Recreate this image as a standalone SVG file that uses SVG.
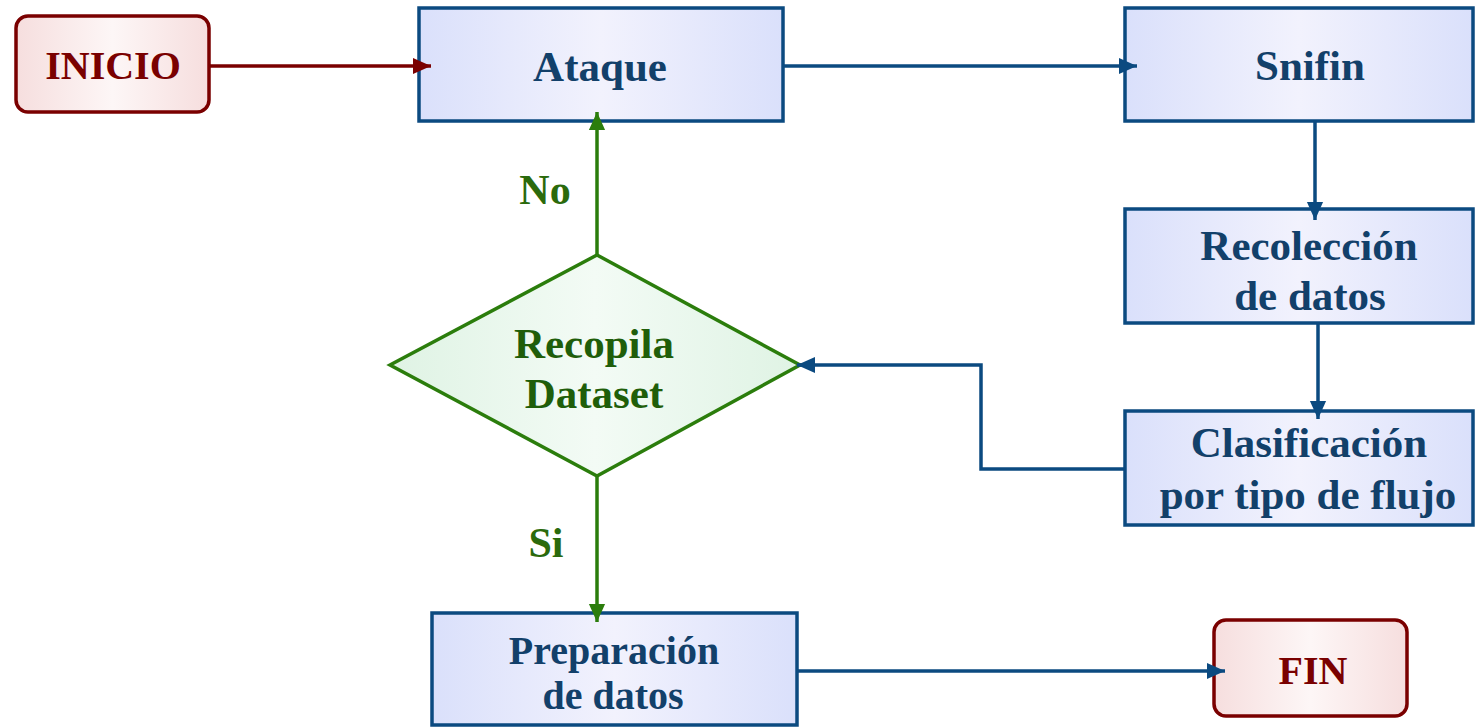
<svg xmlns="http://www.w3.org/2000/svg" width="1475" height="727" viewBox="0 0 1475 727">
  <defs>
    <linearGradient id="gBlue" x1="0" y1="0" x2="1" y2="0">
      <stop offset="0" stop-color="#dae0fb"/>
      <stop offset="0.5" stop-color="#f2f2fd"/>
      <stop offset="1" stop-color="#dae0fb"/>
    </linearGradient>
    <linearGradient id="gRed" x1="0" y1="0" x2="1" y2="0">
      <stop offset="0" stop-color="#f6dede"/>
      <stop offset="0.5" stop-color="#fdf6f6"/>
      <stop offset="1" stop-color="#f6dede"/>
    </linearGradient>
    <linearGradient id="gGreen" x1="0" y1="0" x2="1" y2="0">
      <stop offset="0" stop-color="#dff3e4"/>
      <stop offset="0.5" stop-color="#f3fbf5"/>
      <stop offset="1" stop-color="#dff3e4"/>
    </linearGradient>
    <marker id="aBlue" viewBox="0 0 10 10" refX="10" refY="5" markerWidth="18" markerHeight="18" markerUnits="userSpaceOnUse" orient="auto">
      <path d="M0,0.5 L10,5 L0,9.5 z" fill="#0b4a80"/>
    </marker>
    <marker id="aRed" viewBox="0 0 10 10" refX="10" refY="5" markerWidth="18" markerHeight="18" markerUnits="userSpaceOnUse" orient="auto">
      <path d="M0,0.5 L10,5 L0,9.5 z" fill="#7a0000"/>
    </marker>
    <marker id="aGreen" viewBox="0 0 10 10" refX="10" refY="5" markerWidth="18" markerHeight="18" markerUnits="userSpaceOnUse" orient="auto">
      <path d="M0,0.5 L10,5 L0,9.5 z" fill="#2b7d0c"/>
    </marker>
  </defs>
  <style>
    text { font-family: "Liberation Serif", "Times New Roman", serif; font-weight: bold; text-anchor: middle; dominant-baseline: central; }
    .box { fill: url(#gBlue); stroke: #0b4a80; stroke-width: 3.5; }
    .term { fill: url(#gRed); stroke: #7a0000; stroke-width: 3.5; }
    .dec { fill: url(#gGreen); stroke: #2b7d0c; stroke-width: 3.5; }
    .tBlue { fill: #12406a; font-size: 43px; }
    .tSmall { font-size: 40px; }
    .tRed { fill: #7a0000; font-size: 40px; }
    .tGreen { fill: #1f5e0a; font-size: 43px; }
    .lbl { fill: #2b6a0c; font-size: 42px; }
    .cb { fill: none; stroke: #0b4a80; stroke-width: 3.5; marker-end: url(#aBlue); }
    .cr { fill: none; stroke: #7a0000; stroke-width: 3.5; marker-end: url(#aRed); }
    .cg { fill: none; stroke: #2b7d0c; stroke-width: 3.5; marker-end: url(#aGreen); }
  </style>

  <g id="inicio">
    <rect class="term" x="16" y="16" width="193" height="96" rx="12"/>
    <text class="tRed" x="113" y="65">INICIO</text>
  </g>

  <g id="ataque">
    <rect class="box" x="419" y="8" width="364" height="113"/>
    <text class="tBlue" x="600" y="66">Ataque</text>
  </g>

  <g id="snifin">
    <rect class="box" x="1125" y="8" width="348" height="113"/>
    <text class="tBlue" x="1310" y="65">Snifin</text>
  </g>

  <g id="recoleccion">
    <rect class="box" x="1125" y="209" width="348" height="114"/>
    <text class="tBlue" x="1309" y="245">Recolección</text>
    <text class="tBlue" x="1310" y="295">de datos</text>
  </g>

  <g id="clasificacion">
    <rect class="box" x="1125" y="411" width="348" height="114"/>
    <text class="tBlue" x="1309" y="442">Clasificación</text>
    <text class="tBlue" x="1308" y="494">por tipo de flujo</text>
  </g>

  <g id="recopila">
    <polygon class="dec" points="597,255 800,365 597,476 390,365"/>
    <text class="tGreen" x="594" y="343">Recopila</text>
    <text class="tGreen" x="594" y="393">Dataset</text>
  </g>

  <g id="preparacion">
    <rect class="box" x="432" y="613" width="365" height="112"/>
    <text class="tBlue tSmall" x="614" y="650">Preparación</text>
    <text class="tBlue tSmall" x="613" y="695">de datos</text>
  </g>

  <g id="fin">
    <rect class="term" x="1214" y="620" width="193" height="96" rx="12"/>
    <text class="tRed" x="1313" y="670">FIN</text>
  </g>

  <!-- connectors are drawn last so their arrowheads sit on top of the boxes -->
  <g id="connectors">
    <path class="cr" d="M209,66 H431"/>
    <path class="cb" d="M783,66 H1137"/>
    <path class="cb" d="M1315,121 V220"/>
    <path class="cb" d="M1318,323 V419"/>
    <path class="cb" d="M1125,469 H981 V365 H797"/>
    <path class="cg" d="M597,255 V112"/>
    <path class="cg" d="M597,476 V622"/>
    <path class="cb" d="M797,671 H1225"/>
    <text class="lbl" x="545" y="190">No</text>
    <text class="lbl" x="546" y="543">Si</text>
  </g>
</svg>
